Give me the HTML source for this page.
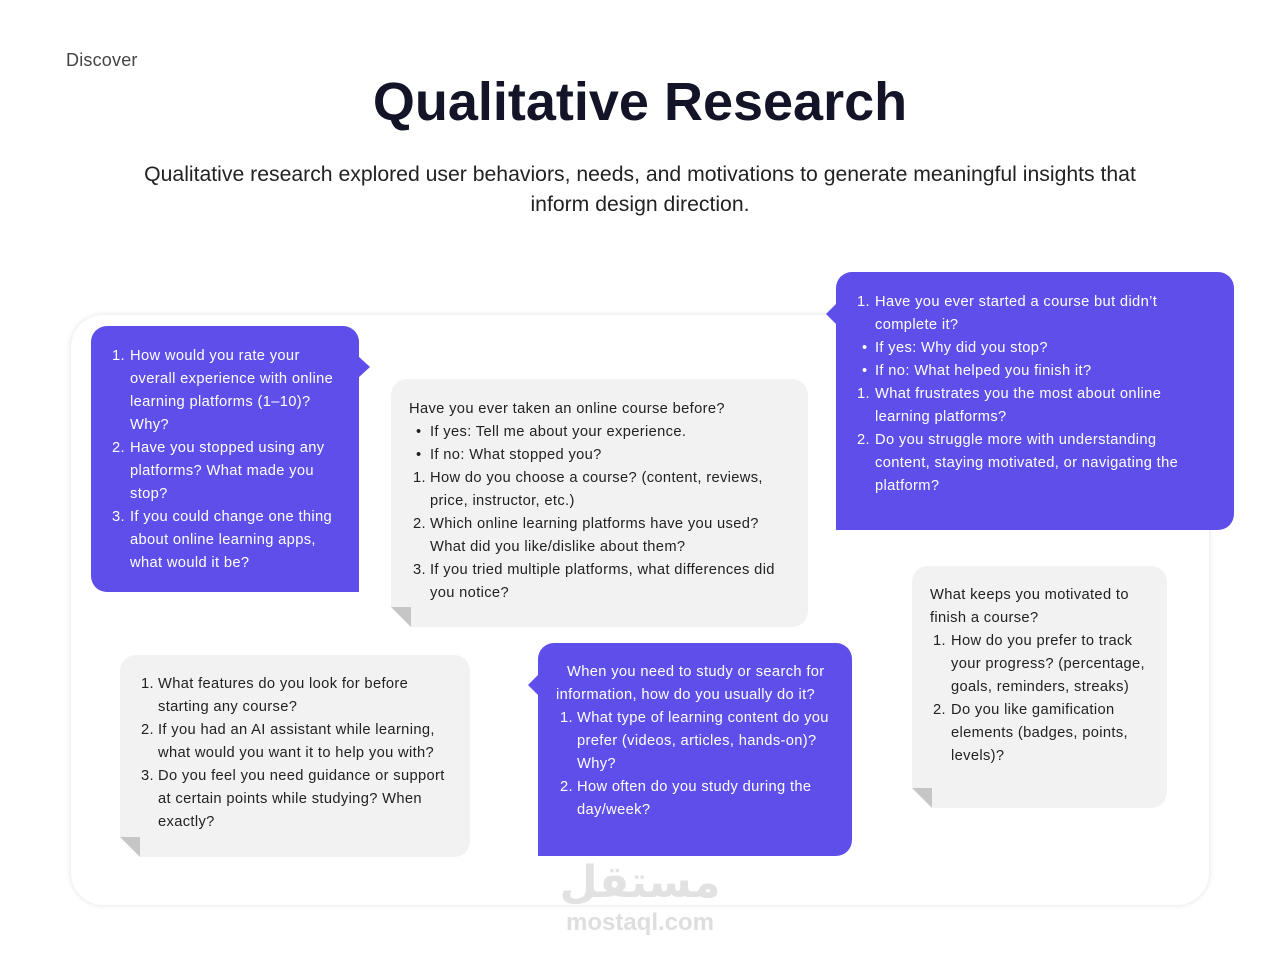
<!DOCTYPE html>
<html><head><meta charset="utf-8"><style>
*{margin:0;padding:0;box-sizing:border-box}
body{width:1280px;height:956px;background:#fff;position:relative;overflow:hidden;font-family:"Liberation Sans",sans-serif}
.a{position:absolute}
.l{position:absolute;height:23px;line-height:23px;font-size:14.7px;letter-spacing:0.35px;white-space:nowrap;margin-top:1px}
.p{background:#5e4eea;color:#fff}
.g{background:#f2f2f2;color:#222}
.pc{color:#fff}.gc{color:#222}
</style></head><body>
<div class="a" style="left:66px;top:50px;font-size:18px;color:#444;letter-spacing:0.2px">Discover</div>
<div class="a" style="left:0;width:1280px;top:68px;text-align:center;font-size:54px;font-weight:bold;color:#141428;line-height:68px">Qualitative Research</div>
<div class="a" style="left:0;width:1280px;top:160px;text-align:center;font-size:21.2px;color:#222;line-height:30px">Qualitative research explored user behaviors, needs, and motivations to generate meaningful insights that<br>inform design direction.</div>

<div class="a" style="left:71px;top:315px;width:1138px;height:590px;border-radius:32px;background:#fff;box-shadow:0 0 6px rgba(0,0,0,0.12)"></div>

<!-- bubble 1 -->
<div class="a p" style="left:91px;top:326px;width:268px;height:266px;border-radius:16px 16px 0 16px"></div>
<svg class="a" style="left:358px;top:356px" width="14" height="22"><polygon points="0,0 12,11 0,22" fill="#5e4eea"/></svg>
<div class="pc">
<div class="l" style="left:112px;top:344px">1.</div><div class="l" style="left:130px;top:344px">How would you rate your</div>
<div class="l" style="left:130px;top:367px">overall experience with online</div>
<div class="l" style="left:130px;top:390px">learning platforms (1–10)?</div>
<div class="l" style="left:130px;top:413px">Why?</div>
<div class="l" style="left:112px;top:436px">2.</div><div class="l" style="left:130px;top:436px">Have you stopped using any</div>
<div class="l" style="left:130px;top:459px">platforms? What made you</div>
<div class="l" style="left:130px;top:482px">stop?</div>
<div class="l" style="left:112px;top:505px">3.</div><div class="l" style="left:130px;top:505px">If you could change one thing</div>
<div class="l" style="left:130px;top:528px">about online learning apps,</div>
<div class="l" style="left:130px;top:551px">what would it be?</div>
</div>

<!-- gray 2 -->
<div class="a g" style="left:391px;top:379px;width:417px;height:248px;border-radius:16px;clip-path:polygon(0 0,100% 0,100% 100%,20px 100%,0 228px)"></div>
<svg class="a" style="left:391px;top:607px" width="20" height="20"><polygon points="0,0 20,0 20,20" fill="#c6c6c6"/></svg>
<div class="gc">
<div class="l" style="left:409px;top:397px">Have you ever taken an online course before?</div>
<div class="l" style="left:416px;top:420px">•</div><div class="l" style="left:430px;top:420px">If yes: Tell me about your experience.</div>
<div class="l" style="left:416px;top:443px">•</div><div class="l" style="left:430px;top:443px">If no: What stopped you?</div>
<div class="l" style="left:413px;top:466px">1.</div><div class="l" style="left:430px;top:466px">How do you choose a course? (content, reviews,</div>
<div class="l" style="left:430px;top:489px">price, instructor, etc.)</div>
<div class="l" style="left:413px;top:512px">2.</div><div class="l" style="left:430px;top:512px">Which online learning platforms have you used?</div>
<div class="l" style="left:430px;top:535px">What did you like/dislike about them?</div>
<div class="l" style="left:413px;top:558px">3.</div><div class="l" style="left:430px;top:558px">If you tried multiple platforms, what differences did</div>
<div class="l" style="left:430px;top:581px">you notice?</div>
</div>

<!-- top right purple -->
<div class="a p" style="left:836px;top:272px;width:398px;height:258px;border-radius:16px 16px 16px 0"></div>
<svg class="a" style="left:825px;top:303px" width="12" height="22"><polygon points="12,0 1,11 12,22" fill="#5e4eea"/></svg>
<div class="pc">
<div class="l" style="left:857px;top:290px">1.</div><div class="l" style="left:875px;top:290px">Have you ever started a course but didn’t</div>
<div class="l" style="left:875px;top:313px">complete it?</div>
<div class="l" style="left:862px;top:336px">•</div><div class="l" style="left:875px;top:336px">If yes: Why did you stop?</div>
<div class="l" style="left:862px;top:359px">•</div><div class="l" style="left:875px;top:359px">If no: What helped you finish it?</div>
<div class="l" style="left:857px;top:382px">1.</div><div class="l" style="left:875px;top:382px">What frustrates you the most about online</div>
<div class="l" style="left:875px;top:405px">learning platforms?</div>
<div class="l" style="left:857px;top:428px">2.</div><div class="l" style="left:875px;top:428px">Do you struggle more with understanding</div>
<div class="l" style="left:875px;top:451px">content, staying motivated, or navigating the</div>
<div class="l" style="left:875px;top:474px">platform?</div>
</div>

<!-- gray right -->
<div class="a g" style="left:912px;top:566px;width:255px;height:242px;border-radius:16px;clip-path:polygon(0 0,100% 0,100% 100%,20px 100%,0 222px)"></div>
<svg class="a" style="left:912px;top:788px" width="20" height="20"><polygon points="0,0 20,0 20,20" fill="#c6c6c6"/></svg>
<div class="gc">
<div class="l" style="left:930px;top:583px">What keeps you motivated to</div>
<div class="l" style="left:930px;top:606px">finish a course?</div>
<div class="l" style="left:933px;top:629px">1.</div><div class="l" style="left:951px;top:629px">How do you prefer to track</div>
<div class="l" style="left:951px;top:652px">your progress? (percentage,</div>
<div class="l" style="left:951px;top:675px">goals, reminders, streaks)</div>
<div class="l" style="left:933px;top:698px">2.</div><div class="l" style="left:951px;top:698px">Do you like gamification</div>
<div class="l" style="left:951px;top:721px">elements (badges, points,</div>
<div class="l" style="left:951px;top:744px">levels)?</div>
</div>

<!-- gray bottom left -->
<div class="a g" style="left:120px;top:655px;width:350px;height:202px;border-radius:16px;clip-path:polygon(0 0,100% 0,100% 100%,20px 100%,0 182px)"></div>
<svg class="a" style="left:120px;top:837px" width="20" height="20"><polygon points="0,0 20,0 20,20" fill="#c6c6c6"/></svg>
<div class="gc">
<div class="l" style="left:141px;top:672px">1.</div><div class="l" style="left:158px;top:672px">What features do you look for before</div>
<div class="l" style="left:158px;top:695px">starting any course?</div>
<div class="l" style="left:141px;top:718px">2.</div><div class="l" style="left:158px;top:718px">If you had an AI assistant while learning,</div>
<div class="l" style="left:158px;top:741px">what would you want it to help you with?</div>
<div class="l" style="left:141px;top:764px">3.</div><div class="l" style="left:158px;top:764px">Do you feel you need guidance or support</div>
<div class="l" style="left:158px;top:787px">at certain points while studying? When</div>
<div class="l" style="left:158px;top:810px">exactly?</div>
</div>

<!-- purple bottom -->
<div class="a p" style="left:538px;top:643px;width:314px;height:213px;border-radius:16px 16px 16px 0"></div>
<svg class="a" style="left:527px;top:674px" width="12" height="22"><polygon points="12,0 1,11 12,22" fill="#5e4eea"/></svg>
<div class="pc">
<div class="l" style="left:567px;top:660px">When you need to study or search for</div>
<div class="l" style="left:556px;top:683px">information, how do you usually do it?</div>
<div class="l" style="left:560px;top:706px">1.</div><div class="l" style="left:577px;top:706px">What type of learning content do you</div>
<div class="l" style="left:577px;top:729px">prefer (videos, articles, hands-on)?</div>
<div class="l" style="left:577px;top:752px">Why?</div>
<div class="l" style="left:560px;top:775px">2.</div><div class="l" style="left:577px;top:775px">How often do you study during the</div>
<div class="l" style="left:577px;top:798px">day/week?</div>
</div>

<!-- watermark -->
<div class="a" style="left:540px;width:200px;top:858px;text-align:center;font-family:'Liberation Sans','DejaVu Sans',sans-serif;font-size:44px;font-weight:bold;color:#e2e2e2;line-height:50px">مستقل</div>
<div class="a" style="left:540px;width:200px;top:908px;text-align:center;font-size:24px;font-weight:bold;color:#dedede;line-height:30px">mostaql.com</div>
</body></html>
